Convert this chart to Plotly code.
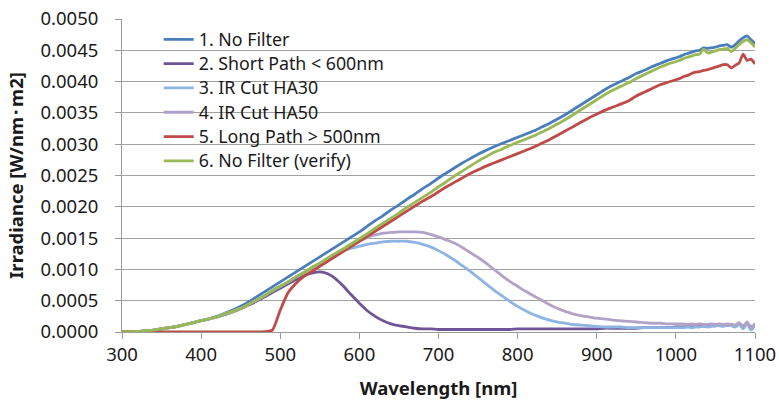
import plotly.graph_objects as go

wavelength = list(range(300, 1001, 10)) + list(range(1005, 1101, 5))

no_filter = [
    0.0, 0.000003, 0.000008, 0.00002, 0.00003, 0.00005, 0.00007, 0.00009, 0.00012, 0.00015,
    0.00018, 0.00021, 0.00025, 0.00030, 0.00035, 0.00041, 0.00048, 0.00056, 0.00064, 0.00072,
    0.00080, 0.00088, 0.00096, 0.00104, 0.00112, 0.00120, 0.00128, 0.00136, 0.00144, 0.00152,
    0.00160, 0.00169, 0.00178, 0.00186, 0.00195, 0.00203, 0.00212, 0.00220, 0.00229, 0.00237,
    0.00246, 0.00254, 0.00262, 0.00270, 0.00277, 0.00284, 0.00290, 0.00296, 0.00301, 0.00306,
    0.00311, 0.00316, 0.00321, 0.00327, 0.00333, 0.00340, 0.00347, 0.00355, 0.00363, 0.00371,
    0.00379, 0.00387, 0.00394, 0.00400, 0.00406, 0.00413, 0.00418, 0.00424, 0.00429, 0.00434,
    0.00438,
    0.00440, 0.00443, 0.00445, 0.00447, 0.00449, 0.00450, 0.00454, 0.00453, 0.00454, 0.00455,
    0.00457, 0.00458, 0.00459, 0.00455, 0.00459, 0.00465, 0.00470, 0.00473, 0.00467, 0.00461,
]

short_path = [
    0.0, 0.000003, 0.000008, 0.00002, 0.00003, 0.00005, 0.00007, 0.00009, 0.00012, 0.00015,
    0.00018, 0.00021, 0.00024, 0.00028, 0.00032, 0.00037, 0.00043, 0.00049, 0.00056, 0.00063,
    0.00070, 0.00077, 0.00084, 0.00090, 0.00094, 0.00096, 0.00093, 0.00085, 0.00073, 0.00059,
    0.00046, 0.00034, 0.00025, 0.00018, 0.00013, 0.00010, 0.00008, 0.00006, 0.00005, 0.00005,
    0.00004, 0.00004, 0.00004, 0.00004, 0.00004, 0.00004, 0.00004, 0.00004, 0.00004, 0.00004,
    0.00005, 0.00005, 0.00005, 0.00005, 0.00005, 0.00005, 0.00005, 0.00005, 0.00005, 0.00005,
    0.00005, 0.00006, 0.00006, 0.00006, 0.00006, 0.00006, 0.00007, 0.00007, 0.00007, 0.00007,
    0.00008,
    0.00008, 0.00008, 0.00009, 0.00008, 0.00009, 0.00009, 0.00010, 0.00009, 0.00010, 0.00010,
    0.00011, 0.00010, 0.00011, 0.00012, 0.00010, 0.00013, 0.00009, 0.00014, 0.00008, 0.00012,
]

ir_cut_ha30 = [
    0.0, 0.000003, 0.000008, 0.00002, 0.00003, 0.00005, 0.00007, 0.00009, 0.00012, 0.00015,
    0.00018, 0.00021, 0.00024, 0.00029, 0.00033, 0.00038, 0.00044, 0.00051, 0.00058, 0.00066,
    0.00073, 0.00080, 0.00088, 0.00095, 0.00103, 0.00110, 0.00117, 0.00124, 0.00130, 0.00134,
    0.00137, 0.00140, 0.00142, 0.00144, 0.00145, 0.00145, 0.00145, 0.00143, 0.00140, 0.00136,
    0.00130, 0.00123, 0.00115, 0.00106, 0.00097, 0.00087, 0.00077, 0.00067, 0.00058, 0.00049,
    0.00041, 0.00034, 0.00028, 0.00023, 0.00019, 0.00016, 0.00014, 0.00012, 0.00011, 0.00010,
    0.00009, 0.00008, 0.00008, 0.00008, 0.00007, 0.00007, 0.00007, 0.00007, 0.00007, 0.00007,
    0.00007,
    0.00007, 0.00007, 0.00008, 0.00007, 0.00008, 0.00008, 0.00009, 0.00008, 0.00009, 0.00010,
    0.00010, 0.00009, 0.00011, 0.00010, 0.00008, 0.00012, 0.00005, 0.00013, 0.00003, 0.00010,
]

ir_cut_ha50 = [
    0.0, 0.000003, 0.000008, 0.00002, 0.00003, 0.00005, 0.00007, 0.00009, 0.00012, 0.00015,
    0.00018, 0.00021, 0.00024, 0.00029, 0.00033, 0.00038, 0.00044, 0.00051, 0.00058, 0.00066,
    0.00073, 0.00080, 0.00088, 0.00095, 0.00103, 0.00110, 0.00118, 0.00125, 0.00132, 0.00139,
    0.00145, 0.00151, 0.00155, 0.00158, 0.00159, 0.00160, 0.00160, 0.00160, 0.00159, 0.00156,
    0.00152, 0.00147, 0.00142, 0.00135, 0.00127, 0.00119, 0.00110, 0.00100, 0.00090, 0.00081,
    0.00073, 0.00065, 0.00058, 0.00051, 0.00044, 0.00038, 0.00033, 0.00029, 0.00026, 0.00024,
    0.00022, 0.00021, 0.00019, 0.00018, 0.00017, 0.00016, 0.00015, 0.00014, 0.00014, 0.00013,
    0.00013,
    0.00013, 0.00013, 0.00012, 0.00013, 0.00012, 0.00013, 0.00012, 0.00012, 0.00013, 0.00012,
    0.00013, 0.00012, 0.00013, 0.00012, 0.00011, 0.00015, 0.00009, 0.00016, 0.00006, 0.00014,
]

long_path = [
    0.0, 0.0, 0.0, 0.0, 0.0, 0.0, 0.0, 0.0, 0.0, 0.0,
    0.0, 0.0, 0.0, 0.0, 0.0, 0.0, 0.0, 0.0, 0.000005, 0.00003,
    0.00035, 0.00063, 0.00078, 0.00089, 0.00097, 0.00105, 0.00113, 0.00121, 0.00129, 0.00137,
    0.00145, 0.00153, 0.00161, 0.00169, 0.00177, 0.00185, 0.00193, 0.00201, 0.00209, 0.00216,
    0.00224, 0.00232, 0.00239, 0.00246, 0.00253, 0.00259, 0.00265, 0.00270, 0.00275, 0.00280,
    0.00285, 0.00290, 0.00295, 0.00301, 0.00307, 0.00314, 0.00321, 0.00328, 0.00335, 0.00342,
    0.00348, 0.00354, 0.00359, 0.00364, 0.00369, 0.00377, 0.00383, 0.00389, 0.00395, 0.00399,
    0.00403,
    0.00405, 0.00408, 0.00410, 0.00413, 0.00415, 0.00416, 0.00418, 0.00419, 0.00421, 0.00423,
    0.00425, 0.00427, 0.00427, 0.00422, 0.00426, 0.00430, 0.00444, 0.00434, 0.00436, 0.00428,
]

no_filter_verify = [
    0.0, 0.000003, 0.000008, 0.00002, 0.00003, 0.00005, 0.00007, 0.00009, 0.00012, 0.00015,
    0.00018, 0.00021, 0.00024, 0.00029, 0.00033, 0.00038, 0.00044, 0.00051, 0.00058, 0.00066,
    0.00073, 0.00080, 0.00088, 0.00095, 0.00103, 0.00110, 0.00118, 0.00126, 0.00133, 0.00141,
    0.00149, 0.00157, 0.00166, 0.00174, 0.00182, 0.00190, 0.00199, 0.00207, 0.00215, 0.00223,
    0.00232, 0.00240, 0.00249, 0.00257, 0.00265, 0.00273, 0.00280, 0.00287, 0.00292, 0.00298,
    0.00303, 0.00308, 0.00313, 0.00319, 0.00325, 0.00332, 0.00339, 0.00347, 0.00355, 0.00363,
    0.00371, 0.00379, 0.00386, 0.00392, 0.00398, 0.00405, 0.00411, 0.00417, 0.00423, 0.00428,
    0.00432,
    0.00434, 0.00437, 0.00439, 0.00441, 0.00443, 0.00444, 0.00452, 0.00446, 0.00447, 0.00449,
    0.00451, 0.00452, 0.00453, 0.00448, 0.00453, 0.00459, 0.00464, 0.00467, 0.00462, 0.00455,
]

series_names = [
    "1. No Filter",
    "2. Short Path < 600nm",
    "3. IR Cut HA30",
    "4. IR Cut HA50",
    "5. Long Path > 500nm",
    "6. No Filter (verify)",
]
series_values = [no_filter, short_path, ir_cut_ha30, ir_cut_ha50, long_path, no_filter_verify]
series_colors = ["#4A7EBB", "#6F5597", "#8EB4E3", "#B3A2C7", "#BE4B48", "#98B954"]

y_ticks = [0.0, 0.0005, 0.0010, 0.0015, 0.0020, 0.0025, 0.0030, 0.0035, 0.0040, 0.0045, 0.0050]
x_ticks = [300, 400, 500, 600, 700, 800, 900, 1000, 1100]

FONT = "Noto Sans, Open Sans, sans-serif"
TXT = "#1a1a1a"

fig = go.Figure()
for name, vals, col in zip(series_names, series_values, series_colors):
    label = name.replace("<", "&lt;").replace(">", "&gt;")
    fig.add_trace(go.Scatter(
        x=wavelength, y=vals, mode="lines",
        name=f"<span style='font-size:17.8px'>{label}</span>",
        line=dict(color=col, width=2.8, shape="spline", smoothing=0.6),
    ))

# white legend panel hiding gridlines (as in the original)
fig.add_shape(type="rect", xref="paper", yref="paper",
              x0=0.027, x1=0.478, y0=0.485, y1=0.975,
              fillcolor="white", line=dict(width=0), layer="between")

fig.update_layout(
    width=779, height=402,
    margin=dict(l=122, r=24, t=19, b=70),
    paper_bgcolor="white", plot_bgcolor="white",
    font=dict(family=FONT, size=18.5, color=TXT),
    showlegend=True,
    legend=dict(
        x=0.058, y=0.99, xanchor="left", yanchor="top",
        bgcolor="rgba(0,0,0,0)", borderwidth=0,
        font=dict(family=FONT, size=16.4, color=TXT),
        tracegroupgap=0, itemwidth=30,
    ),
)

fig.update_xaxes(
    range=[300, 1100], tickvals=x_ticks, ticktext=[str(v) for v in x_ticks],
    showgrid=False, zeroline=False, automargin=False,
    showline=True, linecolor="#9a9a9a", linewidth=1,
    ticks="outside", ticklen=6, tickcolor="#9a9a9a",
    title=dict(text="<b>Wavelength [nm]</b>", font=dict(family=FONT, size=18.5), standoff=16),
)
fig.update_yaxes(
    range=[0, 0.005], tickvals=y_ticks, ticktext=[f"{v:.4f}" for v in y_ticks],
    showgrid=True, gridcolor="#a0a0a0", gridwidth=1, zeroline=False, automargin=False,
    showline=True, linecolor="#9a9a9a", linewidth=1,
    ticks="outside", ticklen=6, tickcolor="#9a9a9a", ticklabelstandoff=13,
    title=dict(text="<b>Irradiance [W/nm･m2]</b>", font=dict(family=FONT, size=18.5), standoff=11),
)

fig.write_html("out.html")
